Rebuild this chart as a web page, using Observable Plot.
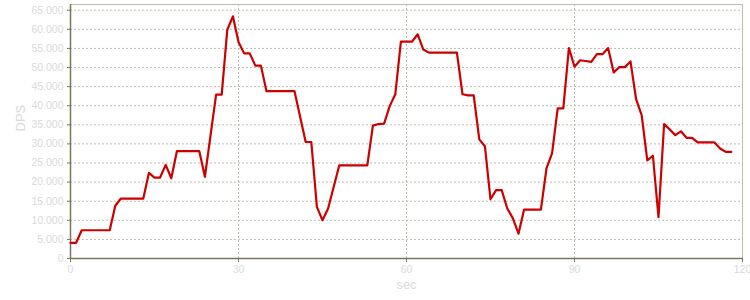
<!DOCTYPE html>
<html>
<head>
<meta charset="utf-8">
<script src="https://cdn.jsdelivr.net/npm/d3@7"></script>
<script src="https://cdn.jsdelivr.net/npm/@observablehq/plot@0.6"></script>
<style>
  html, body { margin: 0; padding: 0; background: #fff; }
  #chart svg { display: block; }
</style>
</head>
<body>
<div id="chart"></div>
<script>
// seconds (vertices of the DPS line)
const seconds = [0,1,2,7,8,9,13,14,15,16,17,18,19,23,24,26,27,28,29,30,31,32,33,34,35,40,42,43,44,45,46,48,53,54,55,56,57,58,59,61,62,63,64,69,70,71,72,73,74,75,76,77,78,79,80,81,84,85,86,87,88,89,90,91,92,93,94,95,96,97,98,99,100,101,102,103,104,105,106,107,108,109,110,111,112,115,116,117,118];
const dps = [4100,4100,7400,7400,13800,15700,15700,22400,21200,21200,24500,21000,28100,28100,21400,42900,42900,59900,63400,56700,53700,53700,50500,50500,43800,43800,30500,30500,13500,10000,13100,24400,24400,34800,35200,35300,39900,43000,56800,56800,58700,54700,53900,53900,43000,42700,42700,31200,29400,15500,17900,17900,13100,10500,6500,12800,12800,23600,27600,39300,39300,55100,50200,51900,51700,51500,53500,53500,55100,48700,50100,50100,51600,41700,37500,25700,26900,10800,35200,33800,32300,33300,31600,31600,30400,30400,28800,27900,27900];
const xTicks = [0,30,60,90,120];
const yTicks = [0,5000,10000,15000,20000,25000,30000,35000,40000,45000,50000,55000,60000,65000];
const xGrid = [30,60,90];
const yMax = 66500;
const xLabel = "sec";
const yLabel = "DPS";

const data = seconds.map((s, i) => ({s, v: dps[i]}));
const fmt = d => d3.format(",")(d).replace(/,/g, ".");

const axisColor = "#77775c";
const frameColor = "#bcbcac";
const gridColor = "#bcbcac";
const textColor = "#dadada";

const chart = Plot.plot({
  width: 750,
  height: 300,
  marginLeft: 70,
  marginRight: 8,
  marginTop: 4,
  marginBottom: 42,
  style: {fontFamily: "'Liberation Sans', Arial, sans-serif", fontSize: "10.5px", background: "#fff"},
  x: {domain: [0, 120]},
  y: {domain: [0, yMax]},
  marks: [
    Plot.gridY(yTicks.filter(d => d > 0), {stroke: gridColor, strokeOpacity: 1, strokeDasharray: "2,2"}),
    Plot.gridX(xGrid, {stroke: gridColor, strokeOpacity: 1, strokeDasharray: "2,2"}),
    Plot.frame({stroke: frameColor}),
    Plot.ruleX([0], {stroke: axisColor, strokeWidth: 1.5}),
    Plot.ruleY([0], {stroke: axisColor, strokeWidth: 1.5}),
    Plot.axisY(yTicks, {tickFormat: fmt, tickSize: 3, tickPadding: 4, stroke: axisColor, fill: textColor, label: null}),
    Plot.axisX(xTicks, {tickSize: 4, tickPadding: 3, stroke: axisColor, fill: textColor, label: null}),
    Plot.line(data, {x: "s", y: "v", stroke: "#cc0000", strokeWidth: 2.2, strokeLinejoin: "round"}),
    Plot.text([yLabel], {frameAnchor: "left", dx: -50, rotate: -90, fill: textColor, fontSize: 13}),
    Plot.text([xLabel], {frameAnchor: "bottom", dy: 30, fill: textColor, fontSize: 13})
  ]
});
document.getElementById("chart").appendChild(chart);
</script>
</body>
</html>
